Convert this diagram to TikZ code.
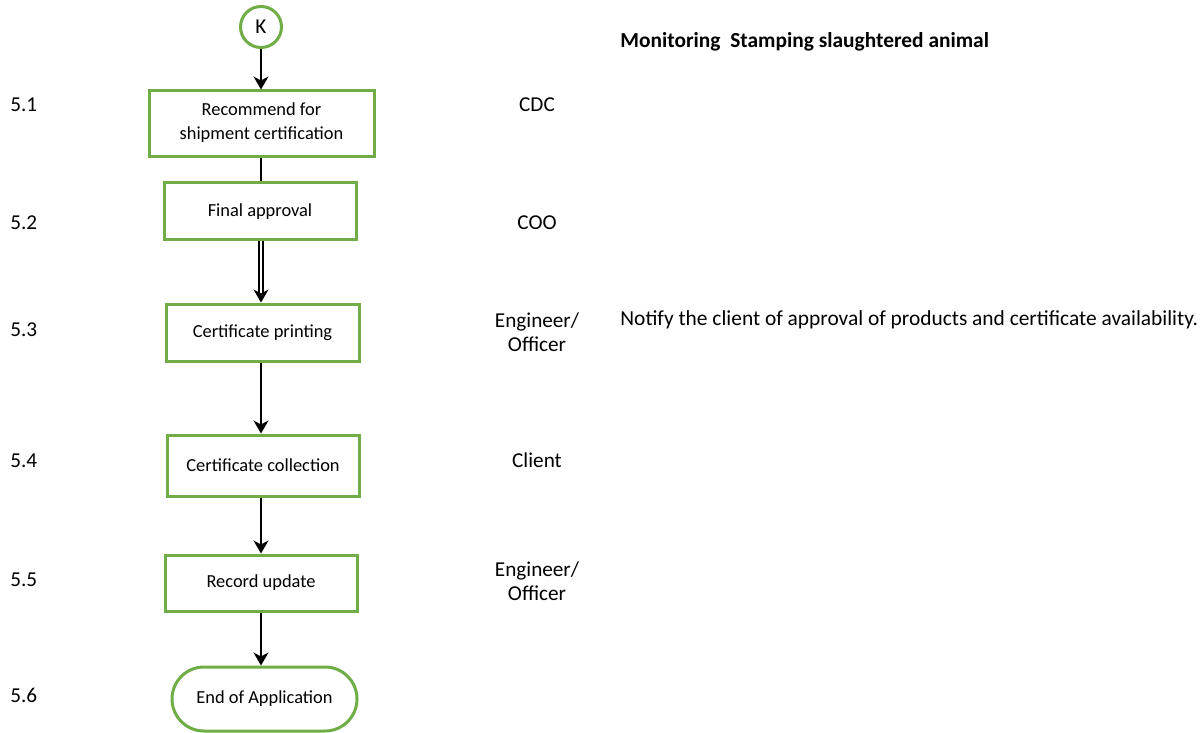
\documentclass[tikz,border=0pt]{standalone}
\usepackage{fontspec}
\setmainfont{Carlito}
\usetikzlibrary{arrows.meta,shapes.misc}
\definecolor{flowG}{HTML}{70AD47}

\begin{document}
\begin{tikzpicture}[x=0.5pt,y=-0.5pt,>={Stealth[length=6.5pt,width=7.5pt,inset=2pt]},
    every node/.style={font=\fontsize{10.6}{12}\selectfont},
    box/.style={draw=flowG,line width=1.5pt,align=center,inner sep=2pt,font=\fontsize{9.2}{12}\selectfont},
    link/.style={line width=0.7pt,->},
    lefttext/.style={anchor=west,inner sep=0pt}]
  \useasboundingbox (0,0) rectangle (1202,732);
  % ---- flow column ----
  \node[box,circle,minimum size=20.5pt,inner sep=0pt,font=\fontsize{10.6}{12}\selectfont] (k) at (261,27) {K};
  \node[box,minimum width=112.5pt,minimum height=33pt,text depth=3pt] (rec) at (261.5,124) {Recommend for\\shipment certification};
  \node[box,minimum width=96pt,minimum height=28.5pt] (appr) at (260,211.5) {Final approval};
  \node[box,minimum width=96.5pt,minimum height=28.5pt] (print) at (262.5,332.5) {Certificate printing};
  \node[box,minimum width=96pt,minimum height=30.5pt] (coll) at (263,465.5) {Certificate collection};
  \node[box,minimum width=96pt,minimum height=28pt] (upd) at (261,583) {Record update};
  \node[box,rounded rectangle,minimum width=96.5pt,minimum height=32pt] (fin) at (264.5,699) {End of Application};
  \draw[link] (k) -- (rec.north -| k);
  \draw[line width=0.7pt] (rec.south -| k) -- (appr.north -| k);
  \draw[line width=0.6pt,double,double distance=1.4pt,->] (appr.south -| k) -- (print.north -| k);
  \draw[link] (print.south -| k) -- (coll.north -| k);
  \draw[link] (coll.south -| k) -- (upd.north -| k);
  \draw[link] (upd.south -| k) -- (fin.north -| k);
  % ---- step numbers ----
  \node[lefttext] (n51) at (10,105) {5.1};
  \node[lefttext] (n52) at (10,223) {5.2};
  \node[lefttext] (n53) at (10,330) {5.3};
  \node[lefttext] (n54) at (10,461) {5.4};
  \node[lefttext] (n55) at (10,580) {5.5};
  \node[lefttext] (n56) at (10,695) {5.6};
  % ---- responsible ----
  \node (r1) at (537,105) {CDC};
  \node (r2) at (537,223) {COO};
  \node[align=center] (r3) at (537,332) {Engineer/\\Officer};
  \node (r4) at (537,460) {Client};
  \node[align=center] (r5) at (537,581) {Engineer/\\Officer};
  % ---- remarks ----
  \node[lefttext,font=\fontsize{10.7}{12}\selectfont\bfseries] (title) at (620,42) {Monitoring\ \ Stamping slaughtered animal};
  \node[lefttext,font=\fontsize{10.7}{12}\selectfont] (note) at (620,320) {Notify the client of approval of products and certificate availability.};
\end{tikzpicture}
\end{document}
